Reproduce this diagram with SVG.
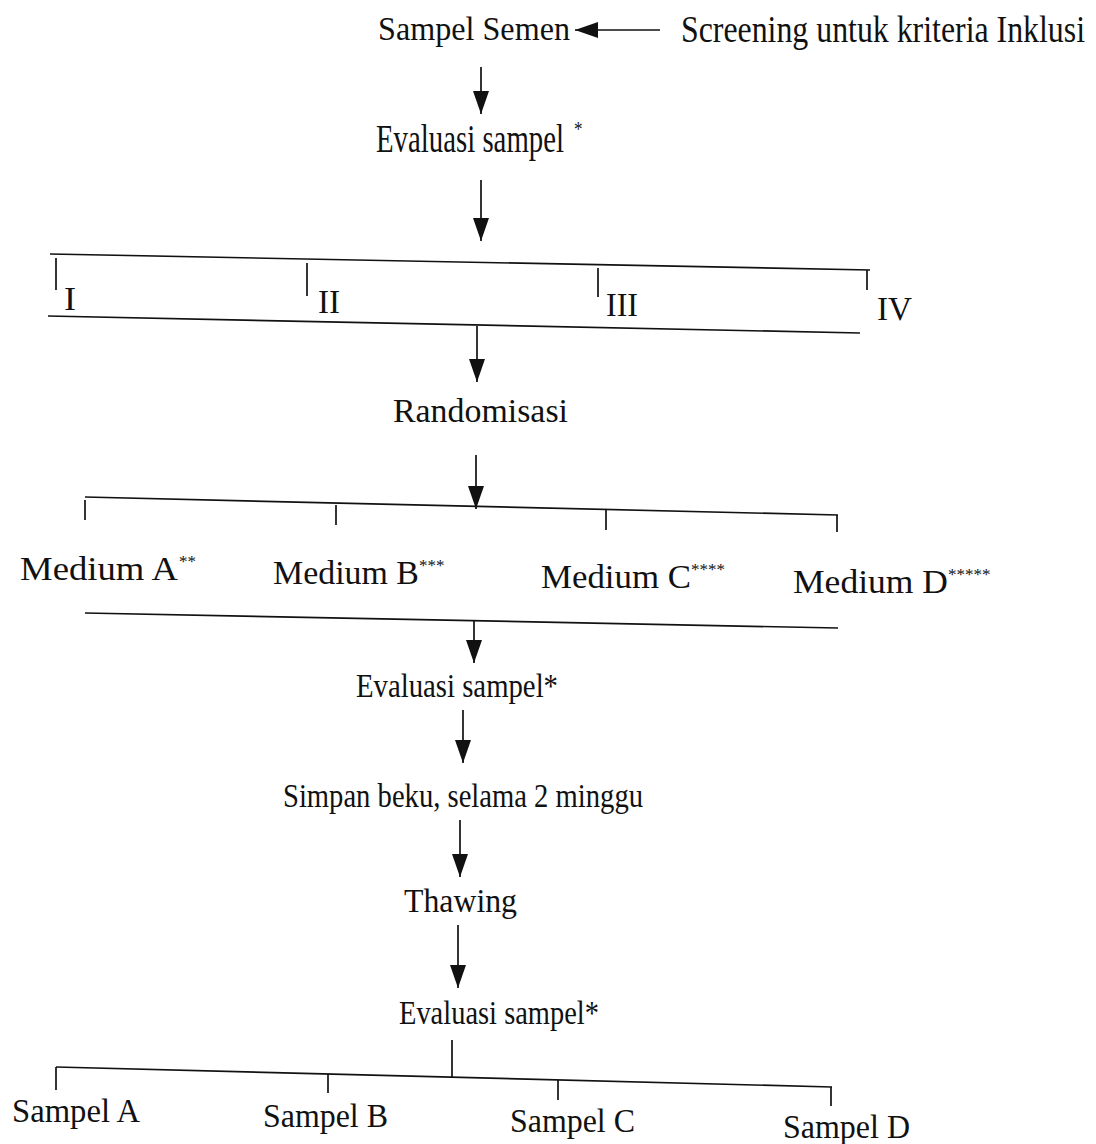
<svg xmlns="http://www.w3.org/2000/svg" width="1096" height="1144" viewBox="0 0 1096 1144">
<style>
text{font-family:"Liberation Serif","Times New Roman",serif;font-size:34px;fill:#111}
.sup{font-size:17px}
.ln{stroke:#111;stroke-width:1.7;fill:none}
.ar{stroke:#111;stroke-width:1.7;fill:none;marker-end:url(#ah)}
</style>
<defs>
<marker id="ah" markerUnits="userSpaceOnUse" markerWidth="26" markerHeight="18" refX="23" refY="8" orient="auto" viewBox="0 0 26 18">
<path d="M0,0 L23,8 L0,16 z" fill="#111"/>
</marker>
</defs>
<rect width="1096" height="1144" fill="#fff"/>
<g id="connectors">
<line class="ar" x1="660" y1="30" x2="575" y2="30"/>
<line class="ar" x1="481" y1="67" x2="481" y2="114"/>
<line class="ar" x1="481" y1="180" x2="481" y2="241"/>
<line class="ln" x1="50" y1="254" x2="870" y2="270"/>
<line class="ln" x1="56" y1="258" x2="56" y2="290"/>
<line class="ln" x1="307" y1="263" x2="307" y2="296"/>
<line class="ln" x1="598" y1="268" x2="598" y2="297"/>
<line class="ln" x1="867" y1="270" x2="867" y2="290"/>
<line class="ln" x1="48" y1="316" x2="860" y2="333"/>
<line class="ar" x1="477" y1="326" x2="477" y2="382"/>
<line class="ar" x1="476" y1="455" x2="476" y2="509"/>
<line class="ln" x1="85" y1="497" x2="838" y2="515"/>
<line class="ln" x1="85" y1="500" x2="85" y2="520"/>
<line class="ln" x1="336" y1="505" x2="336" y2="525"/>
<line class="ln" x1="606" y1="510" x2="606" y2="530"/>
<line class="ln" x1="837" y1="515" x2="837" y2="532"/>
<line class="ln" x1="85" y1="613" x2="838" y2="628"/>
<line class="ar" x1="474" y1="621" x2="474" y2="663"/>
<line class="ar" x1="463" y1="710" x2="463" y2="763"/>
<line class="ar" x1="460" y1="820" x2="460" y2="877"/>
<line class="ar" x1="458" y1="925" x2="458" y2="988"/>
<line class="ln" x1="452" y1="1040" x2="452" y2="1077"/>
<line class="ln" x1="56" y1="1067" x2="832" y2="1087"/>
<line class="ln" x1="56" y1="1067" x2="56" y2="1090"/>
<line class="ln" x1="328" y1="1074" x2="328" y2="1093"/>
<line class="ln" x1="558" y1="1080" x2="558" y2="1100"/>
<line class="ln" x1="831" y1="1087" x2="831" y2="1106"/>
</g>
<g id="n-sampel-semen"><text x="378" y="40" textLength="192" lengthAdjust="spacingAndGlyphs">Sampel Semen</text></g>
<g id="n-screening"><text transform="translate(681,42) scale(1,1.13)" x="0" y="0" font-size="30" textLength="404" lengthAdjust="spacingAndGlyphs">Screening untuk kriteria Inklusi</text></g>
<g id="n-evaluasi-1"><text transform="translate(376,152) scale(1,1.17)" x="0" y="0" font-size="29"><tspan textLength="188" lengthAdjust="spacingAndGlyphs">Evaluasi sampel</tspan><tspan class="sup" dx="10" dy="-14">*</tspan></text></g>
<g id="n-groups">
<text x="64" y="310" textLength="12" lengthAdjust="spacingAndGlyphs">I</text>
<text x="318" y="313" textLength="22" lengthAdjust="spacingAndGlyphs">II</text>
<text x="606" y="316" textLength="32" lengthAdjust="spacingAndGlyphs">III</text>
<text x="877" y="320" textLength="35" lengthAdjust="spacingAndGlyphs">IV</text>
</g>
<g id="n-randomisasi"><text x="393" y="422" textLength="175" lengthAdjust="spacingAndGlyphs">Randomisasi</text></g>
<g id="n-medium-a"><text x="20" y="580"><tspan textLength="158" lengthAdjust="spacingAndGlyphs">Medium A</tspan><tspan class="sup" x="179" y="567">**</tspan></text></g>
<g id="n-medium-b"><text x="273" y="584"><tspan textLength="146" lengthAdjust="spacingAndGlyphs">Medium B</tspan><tspan class="sup" x="419" y="571">***</tspan></text></g>
<g id="n-medium-c"><text x="541" y="588"><tspan textLength="150" lengthAdjust="spacingAndGlyphs">Medium C</tspan><tspan class="sup" x="691" y="575">****</tspan></text></g>
<g id="n-medium-d"><text x="793" y="593"><tspan textLength="155" lengthAdjust="spacingAndGlyphs">Medium D</tspan><tspan class="sup" x="948" y="580">*****</tspan></text></g>
<g id="n-evaluasi-2"><text x="356" y="697" textLength="202" lengthAdjust="spacingAndGlyphs">Evaluasi sampel*</text></g>
<g id="n-simpan"><text x="283" y="807" textLength="360" lengthAdjust="spacingAndGlyphs">Simpan beku, selama 2 minggu</text></g>
<g id="n-thawing"><text x="404" y="912" textLength="113" lengthAdjust="spacingAndGlyphs">Thawing</text></g>
<g id="n-evaluasi-3"><text x="399" y="1024" textLength="200" lengthAdjust="spacingAndGlyphs">Evaluasi sampel*</text></g>
<g id="n-sampel-a"><text x="12" y="1122" textLength="128" lengthAdjust="spacingAndGlyphs">Sampel A</text></g>
<g id="n-sampel-b"><text x="263" y="1127" textLength="125" lengthAdjust="spacingAndGlyphs">Sampel B</text></g>
<g id="n-sampel-c"><text x="510" y="1132" textLength="125" lengthAdjust="spacingAndGlyphs">Sampel C</text></g>
<g id="n-sampel-d"><text x="783" y="1138" textLength="127" lengthAdjust="spacingAndGlyphs">Sampel D</text></g>
</svg>
